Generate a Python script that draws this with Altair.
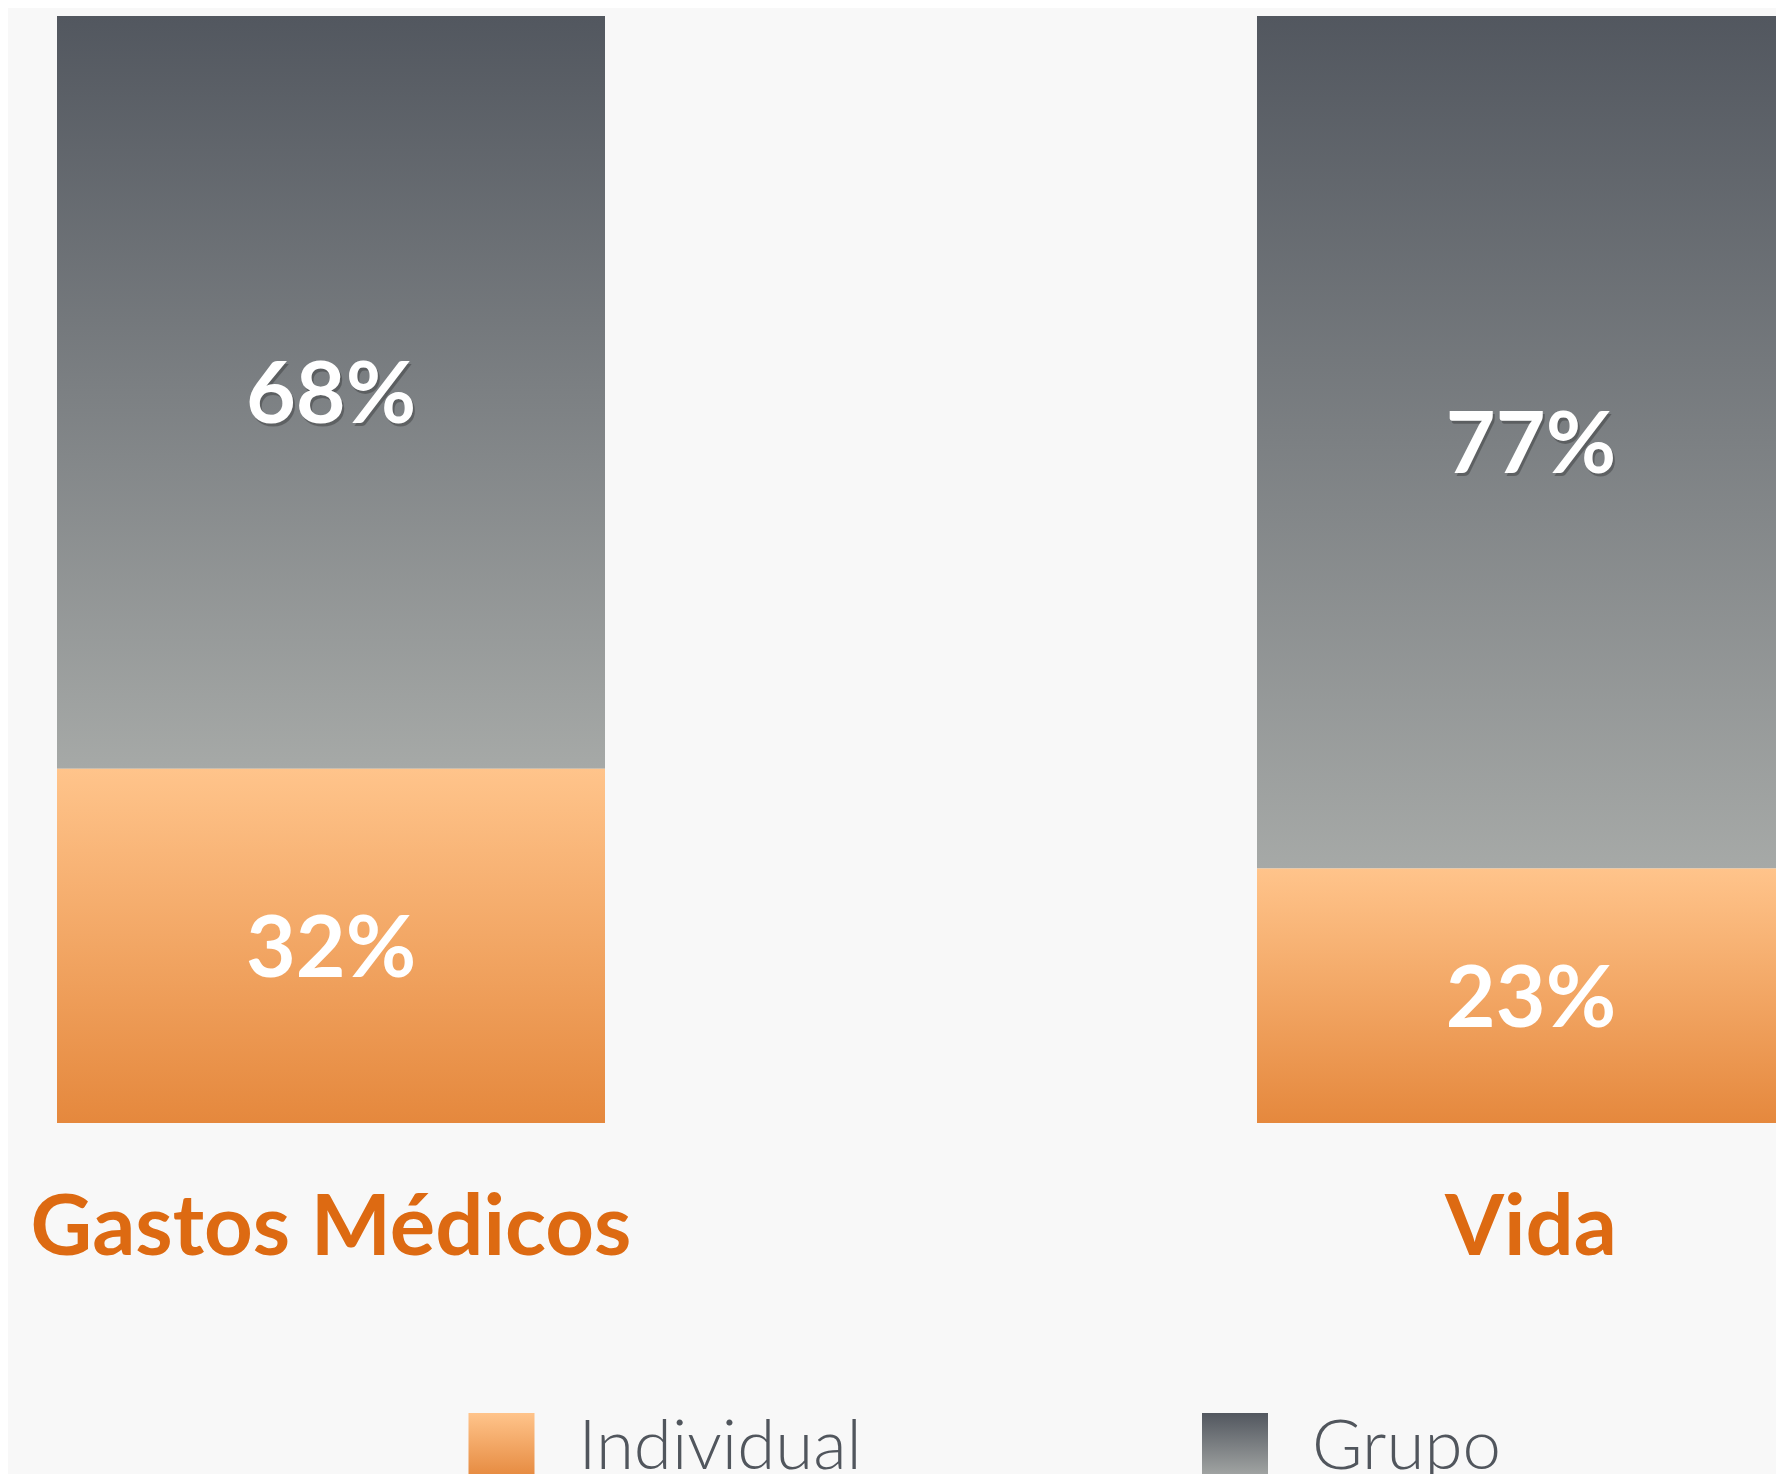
import altair as alt
import pandas as pd

# ---- data ----
categories = ["Gastos Médicos", "Vida"]
individual = [32, 23]
grupo = [68, 77]
series = ["Individual", "Grupo"]

rows = []
for c, i, g in zip(categories, individual, grupo):
    rows.append({"cat": c, "serie": "Individual", "y0": 0, "y1": i, "mid": i / 2, "label": f"{i}%"})
    rows.append({"cat": c, "serie": "Grupo", "y0": i, "y1": i + g, "mid": i + g / 2, "label": f"{g}%"})
df = pd.DataFrame(rows)
cat_df = pd.DataFrame({"cat": categories})
leg_df = pd.DataFrame({"serie": series})

# ---- styles ----
ORANGE = {"gradient": "linear", "x1": 0, "y1": 0, "x2": 0, "y2": 1,
          "stops": [{"offset": 0, "color": "#ffc48b"}, {"offset": 1, "color": "#e5883d"}]}
GREY = {"gradient": "linear", "x1": 0, "y1": 0, "x2": 0, "y2": 1,
        "stops": [{"offset": 0, "color": "#52575f"}, {"offset": 1, "color": "#a6a9a7"}]}
FONT = "Lato"
W, H = 1768, 1466

xs = alt.Scale(type="band", domain=categories, range=[49, 1797],
               paddingInner=0.54333, paddingOuter=0, align=0, round=False)
ys = alt.Scale(domain=[0, 100], range=[1115, 8])
X = alt.X("cat:N", scale=xs, axis=None, sort=categories)

base = alt.Chart(df)

bars_ind = base.transform_filter(alt.datum.serie == "Individual").mark_bar(
    fill=ORANGE, clip=True, strokeWidth=0
).encode(x=X, y=alt.Y("y0:Q", scale=ys, axis=None), y2="y1:Q")

bars_grp = base.transform_filter(alt.datum.serie == "Grupo").mark_bar(
    fill=GREY, clip=True, strokeWidth=0
).encode(x=X, y=alt.Y("y0:Q", scale=ys, axis=None), y2="y1:Q")

shadow = base.transform_filter(alt.datum.serie == "Grupo").mark_text(
    font=FONT, fontWeight="bold", fontSize=86, color="#000000", opacity=0.25,
    baseline="alphabetic", dx=2, dy=34
).encode(x=X, y=alt.Y("mid:Q", scale=ys, axis=None), text="label:N")

pct = base.mark_text(
    font=FONT, fontWeight="bold", fontSize=86, color="#ffffff",
    baseline="alphabetic", dy=31
).encode(x=X, y=alt.Y("mid:Q", scale=ys, axis=None), text="label:N")

cats = alt.Chart(cat_df).mark_text(
    font=FONT, fontWeight="bold", fontSize=85, color="#dd6a12", baseline="alphabetic"
).encode(x=X, y=alt.value(1247), text="cat:N")

LX = alt.X("serie:N", scale=alt.Scale(domain=series, type="point", range=[493.5, 1227], padding=0),
           axis=None, sort=series)
leg_base = alt.Chart(leg_df)
sq_ind = leg_base.transform_filter(alt.datum.serie == "Individual").mark_square(
    size=66 * 66, fill=ORANGE, opacity=1, strokeWidth=0
).encode(x=LX, y=alt.value(1438))
sq_grp = leg_base.transform_filter(alt.datum.serie == "Grupo").mark_square(
    size=66 * 66, fill=GREY, opacity=1, strokeWidth=0
).encode(x=LX, y=alt.value(1438))
leg_txt = leg_base.mark_text(
    font=FONT, fontWeight=300, fontSize=69, color="#51565d", align="left",
    baseline="alphabetic", dx=77
).encode(x=LX, y=alt.value(1461), text="serie:N")

chart = alt.layer(
    bars_grp, bars_ind, shadow, pct, cats, sq_ind, sq_grp, leg_txt
).resolve_scale(x="independent").properties(
    width=W, height=H,
    autosize=alt.AutoSizeParams(type="none"),
    padding=0,
    background="#f8f8f8",
).configure_view(stroke=None)

chart.save("out.html", embed_options={"renderer": "svg", "actions": False})
